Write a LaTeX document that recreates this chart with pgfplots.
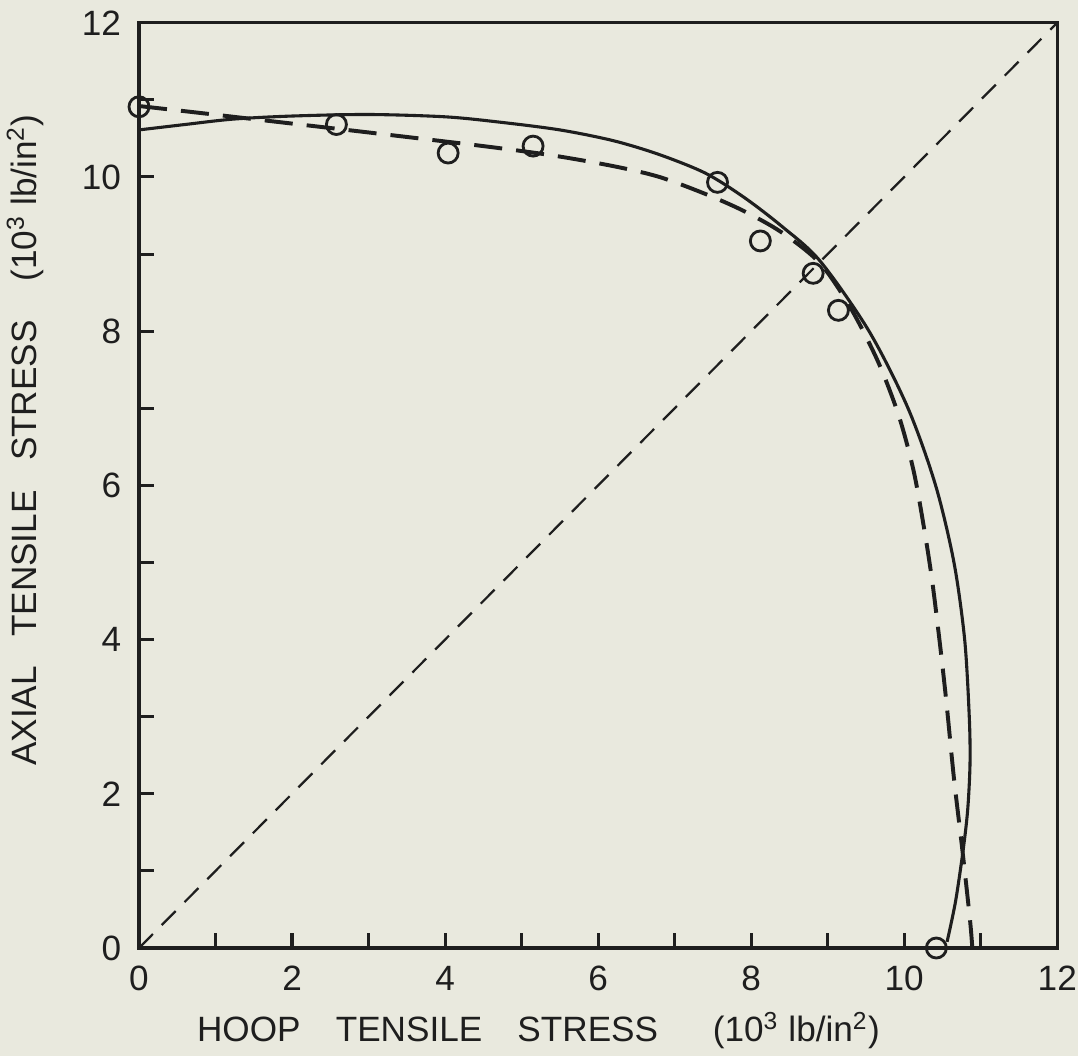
\documentclass[border=0pt]{standalone}
\usepackage{pgfplots}
\pgfplotsset{compat=1.18}
\usepackage{fontspec}
\setmainfont{Liberation Sans}
\definecolor{paper}{RGB}{233,233,222}
\definecolor{ink}{RGB}{30,30,30}

\begin{document}
\begin{tikzpicture}[x=0.0125cm,y=0.0125cm]
% picture frame, in reference pixels (axis box 918 x 925 px)
\useasboundingbox[fill=paper] (-139,-108) rectangle (939,948);
\begin{axis}[
    at={(0,0)}, anchor=south west,
    scale only axis, width=11.475cm, height=11.5625cm,
    xmin=0, xmax=12, ymin=0, ymax=12,
    xtick={0,1,...,12}, ytick={0,1,...,12},
    xticklabels={0,,2,,4,,6,,8,,10,,12},
    yticklabels={0,,2,,4,,6,,8,,10,,12},
    tick align=inside, xtick pos=bottom, ytick pos=left,
    major tick length=0.19cm,
    axis line style={ink, line width=1.2pt},
    tick style={ink, line width=1.1pt},
    /pgf/number format/assume math mode=true,
    ticklabel style={font=\fontsize{12.5}{14}\selectfont, text=ink},
    xticklabel style={yshift=-0.1cm},
    yticklabel style={xshift=-0.1cm},
    xlabel={HOOP\quad TENSILE\quad STRESS\quad\ \ (10\textsuperscript{3} lb/in\textsuperscript{2})},
    ylabel={AXIAL\ \ \ TENSILE\ \ \ STRESS\ \ \ \ (10\textsuperscript{3} lb/in\textsuperscript{2})},
    label style={font=\fontsize{12.5}{14}\selectfont, text=ink},
    xlabel style={at={(axis description cs:0.435,-0.089)}, anchor=center},
    ylabel style={at={(axis description cs:-0.124,0.549)}, anchor=center, rotate=0},
    clip=false,
]
% 45 degree line
\addplot[ink, line width=0.8pt, dash pattern=on 7pt off 4.5pt]
  coordinates {(0,0) (12,12)};
% solid curve
\addplot[ink, line width=1.1pt, smooth, tension=0.5]
  coordinates {
    (0,10.61) (0.6,10.68) (1.23,10.75) (2,10.79) (3,10.81) (4,10.78)
    (4.72,10.71) (5.5,10.61) (6.2,10.47) (6.8,10.29) (7.4,10.05)
    (7.9,9.74) (8.4,9.36) (8.9,8.91) (9.54,8.0) (10.05,7.0)
    (10.41,6.0) (10.65,5.0) (10.79,4.0) (10.85,3.0) (10.86,2.4)
    (10.83,1.8) (10.77,1.27) (10.67,0.6) (10.56,0.08)
  };
% dashed curve
\addplot[ink, line width=1.4pt, smooth, tension=0.5, dash pattern=on 10pt off 5pt]
  coordinates {
    (0,10.92) (0.8,10.83) (1.67,10.73) (3.06,10.57) (4.5,10.40)
    (5.4,10.28) (6.2,10.14) (6.8,10.0) (7.4,9.78) (7.9,9.56)
    (8.4,9.28) (8.9,8.88) (9.3,8.30) (9.66,7.6) (9.93,6.9)
    (10.12,6.2) (10.25,5.5) (10.36,4.8) (10.46,4.0) (10.55,3.2)
    (10.65,2.2) (10.76,1.27) (10.86,0.36) (10.89,0)
  };
% test points
\addplot[only marks, mark=o, mark size=0.125cm, mark options={ink, line width=1pt, fill=none}]
  coordinates {
    (0,10.91) (2.58,10.68) (4.04,10.31) (5.15,10.40) (7.56,9.93)
    (8.12,9.17) (8.81,8.75) (9.14,8.27) (10.42,0)
  };
\end{axis}
\end{tikzpicture}
\end{document}
